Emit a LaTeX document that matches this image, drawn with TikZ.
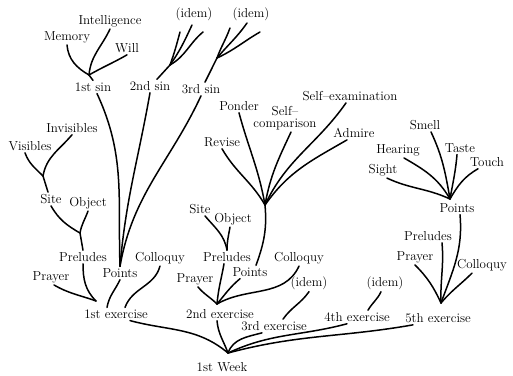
\documentclass[tikz,border=0pt]{standalone}
\usepackage{tikz}
\def\thickness{1.5pt}
\tikzstyle{word}=[inner sep=2pt, font=\fontsize{13}{12}\selectfont]
\tikzstyle{branch}=[line width=\thickness, line cap=round]

\begin{document}
\begin{tikzpicture}[x=1pt, y=1pt]
\useasboundingbox (0,0) rectangle (513,-375);
% first exercise
\node [word] (intel) at (110,-21) {Intelligence};
\node [word] (memory) at (67,-37) {Memory};
\node [word] (will) at (127,-48) {Will};
\node [word] (sin1) at (93,-87) {1st sin};
\node [word] (sin2) at (150,-86) {2nd sin};
\node [word] (sin3) at (201,-89) {3rd sin};
\node [word] (idem1) at (194,-14) {(idem)};
\node [word] (idem2) at (251,-14) {(idem)};
\node [word] (invis) at (72,-128) {Invisibles};
\node [word] (vis) at (30,-146) {Visibles};
\node [word] (site1) at (51,-199) {Site};
\node [word] (object1) at (88,-203) {Object};
\node [word] (prel1) at (83,-257) {Preludes};
\node [word] (coll1) at (160,-258) {Colloquy};
\node [word] (points1) at (120,-273) {Points};
\node [word] (prayer1) at (51,-277) {Prayer};
\node [word] (ex1) at (116,-314) {1st exercise};
% second exercise
\node [word] (ponder) at (239,-106) {Ponder};
\node [word, align=center] (selfcomp) at (285,-118) {Self--\\comparison};
\node [word] (selfexam) at (350,-96) {Self--examination};
\node [word] (admire) at (354,-133) {Admire};
\node [word] (revise) at (222,-142) {Revise};
\node [word] (site2) at (200,-209) {Site};
\node [word] (object2) at (233,-219) {Object};
\node [word] (prel2) at (227,-257) {Preludes};
\node [word] (coll2) at (299,-258) {Colloquy};
\node [word] (points2) at (250,-272) {Points};
\node [word] (prayer2) at (195,-279) {Prayer};
\node [word] (ex2) at (220,-314) {2nd exercise};
\node [word] (ex3) at (274,-326) {3rd exercise};
\node [word] (idem3) at (309,-283) {(idem)};
\node [word] (ex4) at (357,-317) {4th exercise};
\node [word] (idem4) at (385,-283) {(idem)};
% fifth exercise
\node [word] (smell) at (425,-125) {Smell};
\node [word] (hearing) at (398,-150) {Hearing};
\node [word] (taste) at (460,-148) {Taste};
\node [word] (touch) at (487,-162) {Touch};
\node [word] (sight) at (383,-170) {Sight};
\node [word] (points5) at (457,-208) {Points};
\node [word] (prel5) at (428,-236) {Preludes};
\node [word] (prayer5) at (415,-257) {Prayer};
\node [word] (coll5) at (482,-265) {Colloquy};
\node [word] (ex5) at (438,-318) {5th exercise};
\node [word] (week) at (222,-367) {1st Week};

\coordinate (fork1) at (89,-75);
\coordinate (fork2) at (170,-65);
\coordinate (fork3) at (217,-58);
\coordinate (tip21) at (180,-32);
\coordinate (tip22) at (192,-25);
\coordinate (tip23) at (203,-32);
\coordinate (tip31) at (230,-28);
\coordinate (tip32) at (247,-23);
\coordinate (tip33) at (260,-32);
\coordinate (forkv) at (43,-176);
\coordinate (forko1) at (80,-233);
\coordinate (forke1) at (96,-301);
\coordinate (forkp) at (265,-205);
\coordinate (forke2) at (217,-304);
\coordinate (forks) at (450,-199);
\coordinate (forke5) at (441,-303);
\coordinate (forkw) at (228,-353);

% sins
\draw [branch] (memory.south) to [out=-85, in=150] (fork1);
\draw [branch] (fork1) to [out=85, in=-115] (intel.south);
\draw [branch] (will.south) to [out=-150, in=30] (fork1);
\draw [branch] (sin1.north) to (fork1);
\draw [branch] ([xshift=7pt]sin2.north) to (fork2);
\draw [branch] (fork2) to [out=70, in=-105] (tip21);
\draw [branch] (fork2) to [out=55, in=-115] (tip22);
\draw [branch] (fork2) to [out=30, in=-140] (tip23);
\draw [branch] ([xshift=4pt]sin3.north) to (fork3);
\draw [branch] (fork3) to [out=70, in=-110] (tip31);
\draw [branch] (fork3) to [out=50, in=-125] (tip32);
\draw [branch] (fork3) to [out=25, in=-150] (tip33);
\draw [branch] ([xshift=4pt]sin1.south) to [out=-65, in=92] (points1.north);
\draw [branch] (sin2.south) to [out=-100, in=85] (points1.north);
\draw [branch] (sin3.south) to [out=-115, in=80] (points1.north);
% preludes of the 1st exercise
\draw [branch] ([xshift=-5pt]vis.south) to [out=-70, in=135] (forkv);
\draw [branch] (invis.south) to [out=-130, in=80] (forkv);
\draw [branch] (forkv) to ([xshift=-3pt]site1.north);
\draw [branch] (site1.south) to [out=-60, in=150] (forko1);
\draw [branch] (object1.south) to [out=-110, in=80] (forko1);
\draw [branch] (forko1) to (prel1.north);
\draw [branch] ([xshift=3pt]prayer1.south) to [out=-30, in=160] (forke1);
\draw [branch] (prel1.south) to [out=-90, in=135] (forke1);
\draw [branch] (points1.south) to [out=-115, in=80] ([xshift=-9pt]ex1.north);
\draw [branch] (coll1.south) to [out=-105, in=70] ([xshift=9pt]ex1.north);
% 2nd exercise
\draw [branch] (revise.south) to [out=-60, in=120] (forkp);
\draw [branch] (ponder.south) to [out=-75, in=100] (forkp);
\draw [branch] ([xshift=6pt]selfcomp.south) to [out=-115, in=80] (forkp);
\draw [branch] ([xshift=-4pt]selfexam.south) to [out=-125, in=65] (forkp);
\draw [branch] ([xshift=-7pt]admire.south) to [out=-150, in=55] (forkp);
\draw [branch] (forkp) to [out=-85, in=70] ([xshift=6pt]points2.north);
\draw [branch] ([xshift=5pt]site2.south) to [out=-50, in=100] (prel2.north);
\draw [branch] ([xshift=-3pt]object2.south) to [out=-100, in=90] (prel2.north);
\draw [branch] ([xshift=3pt]prayer2.south) to [out=-50, in=135] (forke2);
\draw [branch] ([xshift=-3pt]prel2.south) to [out=-100, in=85] (forke2);
\draw [branch] ([xshift=-10pt]points2.south) to [out=-140, in=50] (forke2);
\draw [branch] (coll2.south) to [out=-115, in=30] (forke2);
\draw [branch] (idem3.south) to [out=-125, in=55] ([xshift=9pt]ex3.north);
\draw [branch] ([xshift=-4pt]idem4.south) to [out=-115, in=60] ([xshift=11pt]ex4.north);
% 5th exercise
\draw [branch] ([xshift=6pt]smell.south) to [out=-65, in=100] (forks);
\draw [branch] ([xshift=6pt]hearing.south) to [out=-30, in=120] (forks);
\draw [branch] ([xshift=-3pt]taste.south) to [out=-95, in=80] (forks);
\draw [branch] ([xshift=-9pt]touch.south) to [out=-150, in=60] (forks);
\draw [branch] ([xshift=4pt]sight.south) to [out=-25, in=155] (forks);
\draw [branch] ([xshift=3pt]points5.south) to [out=-85, in=70] (forke5);
\draw [branch] ([xshift=14pt]prel5.south) to [out=-85, in=92] (forke5);
\draw [branch] (prayer5.south) to [out=-45, in=115] (forke5);
\draw [branch] ([xshift=-10pt]coll5.south) to [out=-135, in=50] (forke5);
% week
\draw [branch] ([xshift=14pt]ex1.south) to [out=-15, in=140] (forkw);
\draw [branch] ([xshift=-3pt]ex2.south) to [out=-85, in=110] (forkw);
\draw [branch] ([xshift=-12pt]ex3.south) to [out=-165, in=70] (forkw);
\draw [branch] ([xshift=-10pt]ex4.south) to [out=-165, in=25] (forkw);
\draw [branch] ([xshift=-25pt]ex5.south) to [out=-170, in=15] (forkw);
\end{tikzpicture}
\end{document}
